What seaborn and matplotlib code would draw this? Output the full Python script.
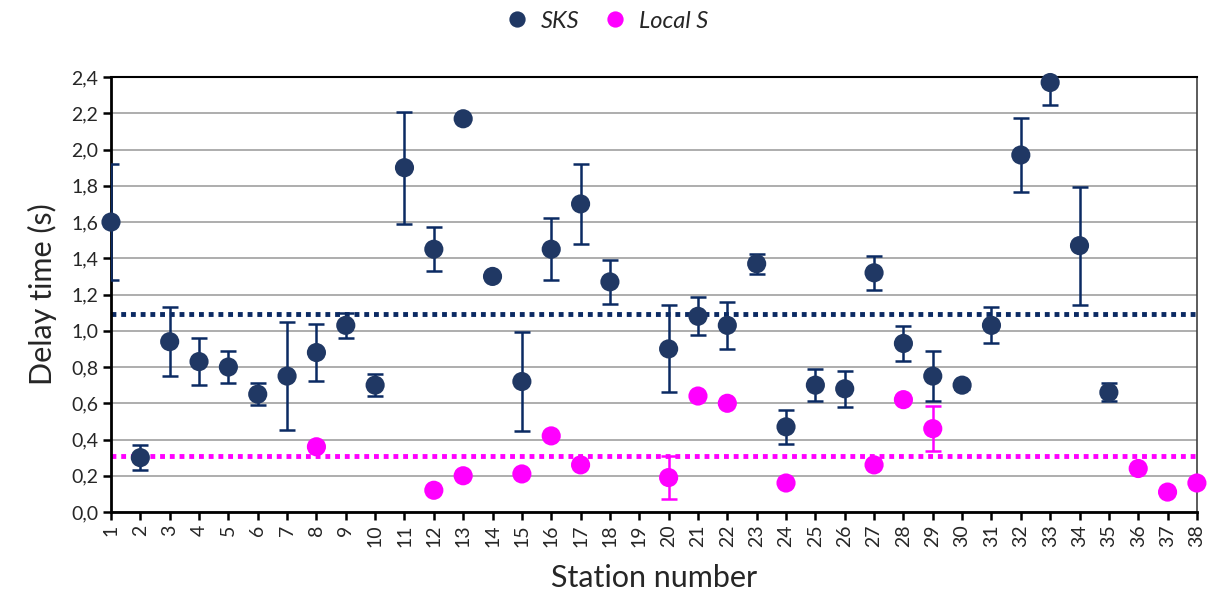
import numpy as np
import pandas as pd
import matplotlib
matplotlib.use("Agg")
import matplotlib.pyplot as plt
import seaborn as sns

# Station numbers
stations = list(range(1, 39))

# SKS delay times and errors (NaN = no measurement)
sks_delay = [1.60, 0.30, 0.94, 0.83, 0.80, 0.65, 0.75, 0.88, 1.03, 0.70,
             1.90, 1.45, 2.17, 1.30, 0.72, 1.45, 1.70, 1.27, np.nan, 0.90,
             1.08, 1.03, 1.37, 0.47, 0.70, 0.68, 1.32, 0.93, 0.75, 0.70,
             1.03, 1.97, 2.37, 1.47, 0.66, np.nan, np.nan, np.nan]
sks_err = [0.32, 0.07, 0.19, 0.13, 0.09, 0.06, 0.30, 0.155, 0.07, 0.06,
           0.31, 0.12, 0.0, 0.0, 0.275, 0.17, 0.22, 0.12, np.nan, 0.24,
           0.105, 0.13, 0.055, 0.095, 0.09, 0.10, 0.095, 0.095, 0.14, 0.02,
           0.10, 0.205, 0.125, 0.325, 0.05, np.nan, np.nan, np.nan]

# Local S delay times and errors
local_delay = [np.nan, np.nan, np.nan, np.nan, np.nan, np.nan, np.nan, 0.36, np.nan, np.nan,
               np.nan, 0.12, 0.20, np.nan, 0.21, 0.42, 0.26, np.nan, np.nan, 0.19,
               0.64, 0.60, np.nan, 0.16, np.nan, np.nan, 0.26, 0.62, 0.46, np.nan,
               np.nan, np.nan, np.nan, np.nan, np.nan, 0.24, 0.11, 0.16]
local_err = [np.nan, np.nan, np.nan, np.nan, np.nan, np.nan, np.nan, 0.0, np.nan, np.nan,
             np.nan, 0.0, 0.0, np.nan, 0.0, 0.0, 0.0, np.nan, np.nan, 0.12,
             0.0, 0.0, np.nan, 0.0, np.nan, np.nan, 0.0, 0.0, 0.125, np.nan,
             np.nan, np.nan, np.nan, np.nan, np.nan, 0.0, 0.0, 0.02]

# Mean delay times
sks_mean = 1.09
local_mean = 0.31

series_names = ["SKS", "Local S"]
colors = {"SKS": "#203864", "Local S": "#FF00FF"}
err_colors = {"SKS": "#0B2A63", "Local S": "#FF00FF"}
mean_colors = {"SKS": "#0B2A63", "Local S": "#FF00FF"}

df = pd.concat([
    pd.DataFrame({"station": stations, "delay": sks_delay, "err": sks_err, "phase": "SKS"}),
    pd.DataFrame({"station": stations, "delay": local_delay, "err": local_err, "phase": "Local S"}),
]).dropna(subset=["delay"])

sns.set_style("white")
plt.rcParams["font.family"] = ["Lato", "DejaVu Sans"]

fig = plt.figure(figsize=(12.09, 6.07), dpi=100)
ax = fig.add_axes([0.0918, 0.1565, 0.8982, 0.7165])

# error bars
for name in series_names:
    sub = df[(df["phase"] == name) & (df["err"] > 0)]
    ax.errorbar(sub["station"], sub["delay"], yerr=sub["err"], fmt="none",
                ecolor=err_colors[name], elinewidth=1.8, capsize=6, capthick=1.8,
                zorder=3)

# mean lines
ax.axhline(sks_mean, color=mean_colors["SKS"], linestyle=(0, (1, 1)), linewidth=3.5, zorder=2)
ax.axhline(local_mean, color=mean_colors["Local S"], linestyle=(0, (1, 1)), linewidth=3.5, zorder=2)

sns.scatterplot(data=df, x="station", y="delay", hue="phase", hue_order=series_names,
                palette=colors, s=190, edgecolor="none", ax=ax, zorder=4, clip_on=False)

ax.set_xlim(1, 38)
ax.set_ylim(0, 2.4)
yt = np.round(np.arange(0, 2.41, 0.2), 1)
ax.set_yticks(yt)
ax.set_yticklabels([f"{v:.1f}".replace(".", ",") for v in yt], fontsize=14)
ax.set_xticks(stations)
ax.set_xticklabels([str(s) for s in stations], rotation=90, fontsize=14)
ax.yaxis.grid(True, color="#A0A0A0", linewidth=1.2)
ax.xaxis.grid(False)
ax.set_axisbelow(True)

for side in ["left", "bottom"]:
    ax.spines[side].set_color("black")
    ax.spines[side].set_linewidth(2)
ax.spines["top"].set_color("black")
ax.spines["top"].set_linewidth(1.5)
ax.spines["right"].set_color("#404040")
ax.spines["right"].set_linewidth(1.2)

ax.tick_params(axis="both", direction="out", length=6, width=1.8, color="black",
               left=True, bottom=True, pad=3)

ax.set_xlabel("Station number", fontsize=22, labelpad=12)
ax.set_ylabel("Delay time (s)", fontsize=22, labelpad=10)

handles, labels = ax.get_legend_handles_labels()
ax.legend_.remove()
leg = fig.legend(handles, labels, loc="center", bbox_to_anchor=(0.497, 0.965), ncol=2,
                 frameon=False, prop={"size": 17, "style": "italic"},
                 handletextpad=0.0, columnspacing=0.5, markerscale=0.85)

fig.savefig("out.png", dpi=100)
